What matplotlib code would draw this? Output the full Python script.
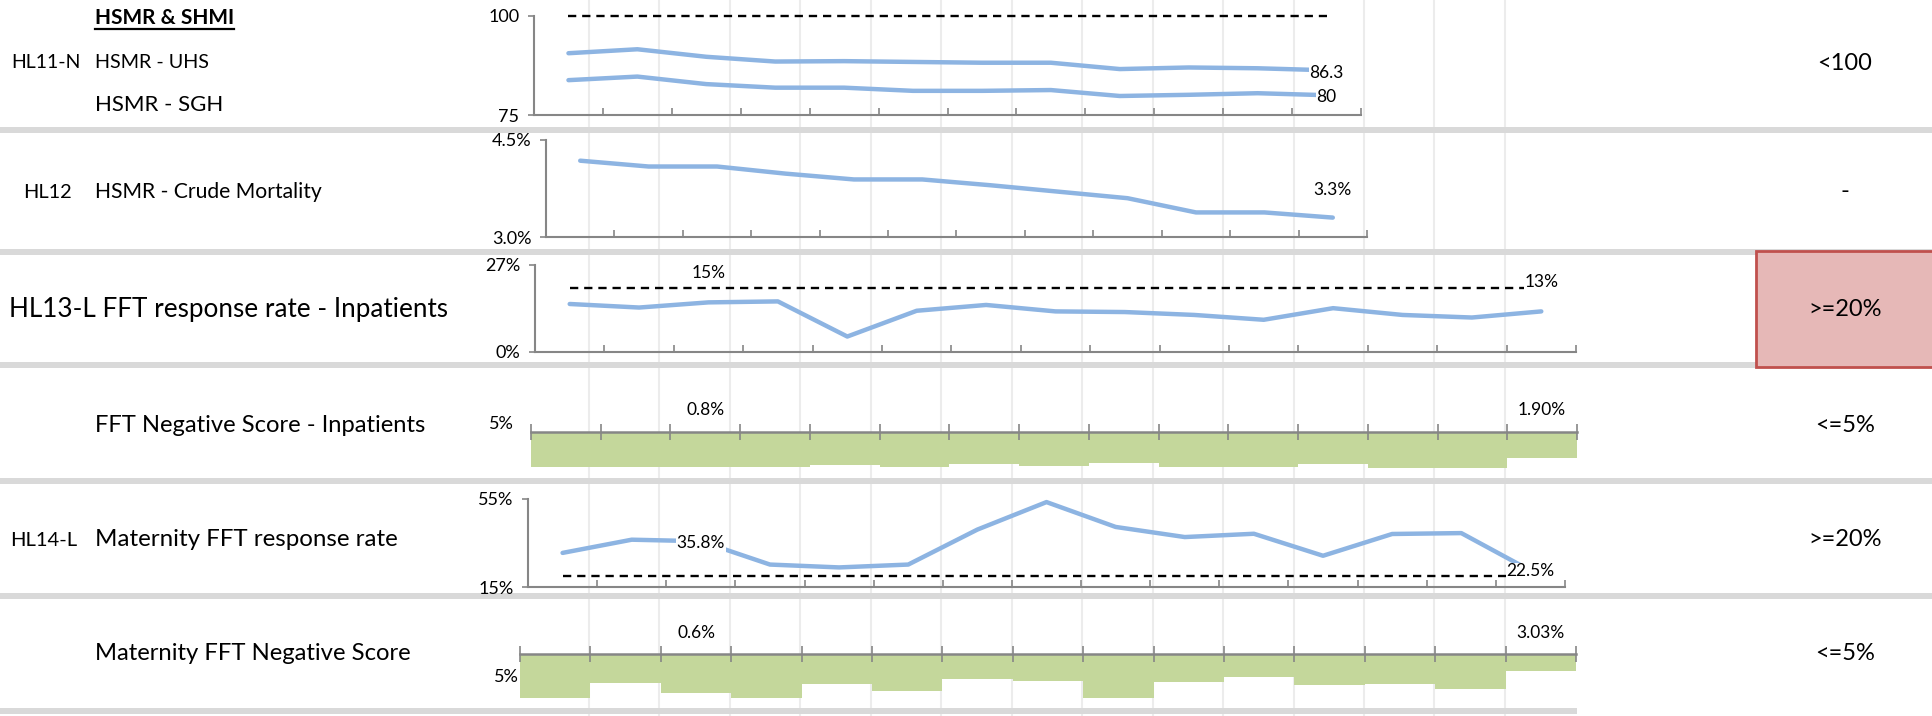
import numpy as np
import matplotlib
matplotlib.use('Agg')
import matplotlib.pyplot as plt
from matplotlib.patches import Rectangle
from matplotlib.ticker import FuncFormatter
from matplotlib.transforms import ScaledTranslation

plt.rcParams['font.family'] = ['Lato', 'DejaVu Sans']

# ---- data ----
hsmr_uhs = [90.6, 91.6, 89.7, 88.5, 88.6, 88.4, 88.2, 88.2, 86.6, 87.0, 86.8, 86.3]
hsmr_sgh = [83.8, 84.7, 82.8, 81.9, 81.9, 81.1, 81.1, 81.3, 79.8, 80.1, 80.5, 80.0]
hsmr_target = 100

crude_mortality = [4.18, 4.09, 4.09, 3.98, 3.89, 3.89, 3.80, 3.70, 3.60, 3.38, 3.38, 3.30]

ip_response = [14.9, 13.8, 15.4, 15.7, 4.8, 12.8, 14.6, 12.6, 12.4, 11.5, 10.0, 13.6, 11.5, 10.7, 12.6]
ip_response_target = 20

ip_negative = [0.8, 0.88, 0.8, 0.8, 1.08, 0.8, 1.24, 0.92, 1.32, 0.8, 0.88, 1.2, 0.68, 0.76, 1.90]

mat_response = [30.5, 36.5, 35.8, 25.2, 23.9, 25.2, 41.1, 53.6, 42.3, 37.7, 39.2, 29.2, 39.1, 39.5, 22.5]
mat_response_target = 20

mat_negative = [0.0, 1.65, 0.6, 0.0, 1.54, 0.77, 2.12, 1.96, 0.0, 1.77, 2.38, 1.46, 1.62, 1.04, 3.03]

row_codes = ['HL11-N', 'HL12', 'HL13-L', 'HL14-L']
targets = ['<100', '-', '>=20%', '<=5%', '>=20%', '<=5%']

LINE = '#8db4e2'
BAR = '#c4d79b'
AXIS = '#868686'
SEP = '#d9d9d9'
GRID = '#ececec'

W, H = 1932, 716
fig = plt.figure(figsize=(W / 100, H / 100), dpi=100)
bg = fig.add_axes([0, 0, 1, 1], zorder=0)
bg.set_xlim(0, W)
bg.set_ylim(H, 0)
bg.axis('off')

# excel column borders
for gx in 589 + 70.45 * np.arange(14):
    bg.plot([gx, gx], [0, H], color=GRID, lw=1.5, zorder=0)

# row separators
for y0, x1 in [(127, W), (249, W), (362, W), (478, W), (593, W), (708, 1577)]:
    bg.add_patch(Rectangle((0, y0), x1, 6, color=SEP, lw=0, zorder=1))

# red status cell
bg.add_patch(Rectangle((1756, 251), 180, 116, fc='#e6b8b7', ec='#c0504d', lw=2, zorder=2))


def px_axes(left, top, right, bottom):
    return fig.add_axes([left / W, 1 - bottom / H, (right - left) / W, (bottom - top) / H],
                        facecolor='none', zorder=3)


def line_chart(rect, series, lo, hi, fmt, target=None):
    ax = px_axes(*rect)
    n = len(series[0])
    x = np.arange(n)
    if target is not None:
        ax.plot(x, [target] * n, color='black', lw=1.7, ls=(0, (3.5, 2.5)), clip_on=False)
    for s in series:
        ax.plot(x, s, color=LINE, lw=3.2, solid_capstyle='round', clip_on=False)
    ax.set_xlim(-0.5, n - 0.5)
    ax.set_ylim(lo, hi)
    ax.set_yticks([lo, hi])
    ax.yaxis.set_major_formatter(FuncFormatter(fmt))
    ax.set_xticks(np.arange(0.5, n))
    ax.tick_params(axis='x', direction='in', length=5, color=AXIS, width=1.2, labelbottom=False)
    ax.tick_params(axis='y', direction='out', length=4.5, color=AXIS, width=1.2, labelsize=13, pad=6)
    for side in ['top', 'right']:
        ax.spines[side].set_visible(False)
    for side in ['left', 'bottom']:
        ax.spines[side].set_color(AXIS)
        ax.spines[side].set_linewidth(1.5)
    return ax


def bar_chart(rect, vals, axis_top=5):
    ax = px_axes(*rect)
    n = len(vals)
    x = np.arange(n)
    ax.bar(x, np.array(vals) - axis_top, bottom=axis_top, width=1.0, color=BAR, lw=0)
    ax.set_xlim(-0.5, n - 0.5)
    ax.set_ylim(0, axis_top)
    ax.set_yticks([])
    ax.xaxis.tick_top()
    ax.set_xticks(np.arange(-0.5, n))
    ax.tick_params(axis='x', direction='inout', length=12, color=AXIS, width=1.2,
                   labeltop=False, labelbottom=False)
    for side in ['bottom', 'left', 'right']:
        ax.spines[side].set_visible(False)
    ax.spines['top'].set_color(AXIS)
    ax.spines['top'].set_linewidth(1.8)
    return ax


def label(ax, i, v, text, dy=0):
    ax.annotate(text, (i, v), xytext=(0, dy), textcoords='offset pixels',
                ha='center', va='center', fontsize=12.5, annotation_clip=False, zorder=5,
                bbox=dict(fc='white', ec='none', pad=0.5))


def bar_label(ax, i, text, dy):
    ax.text(i, 5, text, ha='center', va='center', fontsize=12.5,
            transform=ax.transData + ScaledTranslation(0, dy / 100, fig.dpi_scale_trans))


# row 1 - HSMR
ax1 = line_chart((534, 16, 1361, 115), [hsmr_uhs, hsmr_sgh], 75, 100,
                 lambda v, p: f'{v:.0f}', target=hsmr_target)
label(ax1, len(hsmr_uhs) - 1, hsmr_uhs[-1], f'{hsmr_uhs[-1]:.1f}', dy=-3)
label(ax1, len(hsmr_sgh) - 1, hsmr_sgh[-1], f'{hsmr_sgh[-1]:.0f}', dy=-2)

# row 2 - crude mortality
ax2 = line_chart((546, 140, 1367, 237), [crude_mortality], 3.0, 4.5,
                 lambda v, p: f'{v:.1f}%')
label(ax2, len(crude_mortality) - 1, crude_mortality[-1], f'{crude_mortality[-1]:.1f}%', dy=28)

# row 3 - FFT response rate inpatients
ax3 = line_chart((535, 265, 1576, 352), [ip_response], 0, 27,
                 lambda v, p: f'{v:.0f}%', target=ip_response_target)
label(ax3, 2, ip_response[2], f'{ip_response[2]:.0f}%', dy=29)
label(ax3, len(ip_response) - 1, ip_response[-1], f'{ip_response[-1]:.0f}%', dy=29)

# row 4 - FFT negative score inpatients
ax4 = bar_chart((531, 432, 1577, 474), ip_negative)
bar_label(ax4, 2, f'{ip_negative[2]:.1f}%', 22)
bar_label(ax4, len(ip_negative) - 1, f'{ip_negative[-1]:.2f}%', 22)

# row 5 - maternity response rate
ax5 = line_chart((528, 499, 1565, 587), [mat_response], 15, 55,
                 lambda v, p: f'{v:.0f}%', target=mat_response_target)
label(ax5, 2, mat_response[2], f'{mat_response[2]:.1f}%', dy=-2)
label(ax5, len(mat_response) - 1, mat_response[-1], f'{mat_response[-1]:.1f}%', dy=-1)

# row 6 - maternity negative score
ax6 = bar_chart((520, 654, 1576, 698), mat_negative)
bar_label(ax6, 2, f'{mat_negative[2]:.1f}%', 21)
bar_label(ax6, len(mat_negative) - 1, f'{mat_negative[-1]:.2f}%', 21)

# axis value for the bar rows
bg.text(514, 424, '5%', ha='right', va='center', fontsize=13)
bg.text(519, 677, '5%', ha='right', va='center', fontsize=13)

# left hand labels
title = bg.text(95, 18, 'HSMR & SHMI', fontsize=15, weight='bold', va='center')
bg.text(11, 63, row_codes[0], fontsize=14, va='center')
bg.text(95, 63, 'HSMR - UHS', fontsize=14.2, va='center')
bg.text(95, 105, 'HSMR - SGH', fontsize=16, va='center')
bg.text(23, 192, row_codes[1], fontsize=14.4, va='center')
bg.text(95, 192, 'HSMR - Crude Mortality', fontsize=15.2, va='center')
bg.text(9, 310, f'{row_codes[2]} FFT response rate - Inpatients', fontsize=18.8, va='center')
bg.text(95, 426, 'FFT Negative Score - Inpatients', fontsize=17.1, va='center')
bg.text(10, 540, row_codes[3], fontsize=14.5, va='center')
bg.text(95, 540, 'Maternity FFT response rate', fontsize=17.4, va='center')
bg.text(95, 654, 'Maternity FFT Negative Score', fontsize=17.2, va='center')

# target column
for y, t in zip([63, 192, 310, 426, 540, 654], targets):
    bg.text(1845, y, t, ha='center', va='center', fontsize=17, zorder=4)

# underline the section title
fig.canvas.draw()
bb = title.get_window_extent()
(x0, y0), (x1, y1) = bg.transData.inverted().transform([[bb.x0, bb.y0], [bb.x1, bb.y1]])
bg.plot([x0, x1], [y0 + 1, y0 + 1], color='black', lw=1.6)

fig.savefig('out.png', dpi=100)
